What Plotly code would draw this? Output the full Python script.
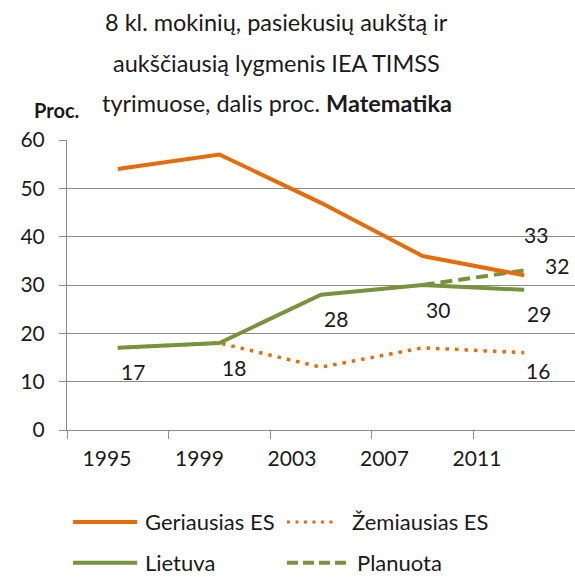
import plotly.graph_objects as go

years = ['1995', '1999', '2003', '2007', '2011']
geriausias = [54, 57, 47, 36, 32]
zemiausias = [17, 18, 13, 17, 16]
lietuva = [17, 18, 28, 30, 29]
planuota = [None, None, None, 30, 33]

ORANGE = '#E46C0A'
GREEN = '#77933C'
GRID = '#8C8C8C'
TXT = '#1A1A1A'
FONT = 'Lato'
DOT = '3.5px,6px'
DASH = '12px,6px'

fig = go.Figure()

fig.add_trace(go.Scatter(x=years, y=zemiausias, mode='lines', name='Žemiausias ES',
                         line=dict(color=ORANGE, width=3.5, dash=DOT)))
fig.add_trace(go.Scatter(x=years, y=planuota, mode='lines', name='Planuota',
                         line=dict(color=GREEN, width=4, dash=DASH)))
fig.add_trace(go.Scatter(x=years, y=geriausias, mode='lines', name='Geriausias ES',
                         line=dict(color=ORANGE, width=4)))
fig.add_trace(go.Scatter(x=years, y=lietuva, mode='lines', name='Lietuva',
                         line=dict(color=GREEN, width=4)))
# invisible trace so the label axis gets drawn
fig.add_trace(go.Scatter(x=years, y=[None] * len(years), xaxis='x2', mode='lines',
                         showlegend=False, hoverinfo='skip'))

lab_font = dict(family=FONT, size=21, color=TXT)
last = len(years) - 1

# data labels (category axes want the category index here)
for i, v in enumerate(lietuva):
    fig.add_annotation(x=i, y=v, text=str(v), showarrow=False, font=lab_font,
                       xshift=15, yshift=-24)
fig.add_annotation(x=last, y=zemiausias[last], text=str(zemiausias[last]), showarrow=False,
                   font=lab_font, xshift=14, yshift=-18)
fig.add_annotation(x=last, y=planuota[last], text=str(planuota[last]), showarrow=False,
                   font=lab_font, xshift=12, yshift=36)
fig.add_annotation(x=last, y=geriausias[last], text=str(geriausias[last]), showarrow=False,
                   font=lab_font, xshift=33, yshift=10)

# title, three lines
title_lines = ['8 kl. mokinių, pasiekusių aukštą ir',
               'aukščiausią lygmenis IEA TIMSS',
               'tyrimuose, dalis proc. <b>Matematika</b>']
for line, ty in zip(title_lines, [1.407, 1.266, 1.128]):
    fig.add_annotation(x=0.413, y=ty, xref='paper', yref='paper', text=line, showarrow=False,
                       font=dict(family=FONT, size=23.5, color=TXT), xanchor='center', yanchor='middle')

fig.add_annotation(x=-0.02, y=1.103, xref='paper', yref='paper', text='<b>Proc.</b>',
                   showarrow=False, font=dict(family=FONT, size=20, color=TXT),
                   xanchor='center', yanchor='middle')

# hand drawn legend
legend_items = [
    ('Geriausias ES', ORANGE, 'solid', 0.012, 0.138, 0.150, -0.317),
    ('Žemiausias ES', ORANGE, '3px,5.5px', 0.433, 0.532, 0.557, -0.317),
    ('Lietuva', GREEN, 'solid', 0.012, 0.138, 0.150, -0.458),
    ('Planuota', GREEN, '11px,5px', 0.433, 0.557, 0.567, -0.458),
]
for name, col, dash, x0, x1, tx, ly in legend_items:
    fig.add_shape(type='line', xref='paper', yref='paper', x0=x0, x1=x1, y0=ly, y1=ly,
                  line=dict(color=col, width=3 if dash.startswith('3px') else 4, dash=dash))
    fig.add_annotation(x=tx, y=ly, xref='paper', yref='paper', text=name, showarrow=False,
                       font=dict(family=FONT, size=22, color=TXT), xanchor='left', yanchor='middle')

fig.update_layout(
    width=575, height=577,
    margin=dict(l=67, r=0, t=140, b=147),
    plot_bgcolor='white', paper_bgcolor='white',
    showlegend=False,
    font=dict(family=FONT, size=21, color=TXT),
    xaxis=dict(type='category', categoryorder='array', categoryarray=years,
               range=[-0.5, 4.5], tickson='boundaries', ticks='outside', ticklen=8,
               tickcolor=GRID, showticklabels=False, showgrid=False,
               showline=True, linecolor=GRID, linewidth=1),
    xaxis2=dict(type='category', categoryorder='array', categoryarray=years,
                overlaying='x', anchor='y', side='bottom', range=[-0.432, 5.06],
                showgrid=False, showline=False, ticks='', ticklabelstandoff=14,
                tickfont=dict(family=FONT, size=21, color=TXT)),
    yaxis=dict(range=[0, 60], dtick=10, ticks='outside', ticklen=7, tickcolor=GRID,
               showgrid=True, gridcolor=GRID, gridwidth=1, zeroline=False,
               showline=True, linecolor=GRID, linewidth=1, ticklabelstandoff=10,
               tickfont=dict(family=FONT, size=21, color=TXT)),
)

fig.write_html("out.html", config={'displayModeBar': False},
               post_script="document.body.style.margin='0';")
